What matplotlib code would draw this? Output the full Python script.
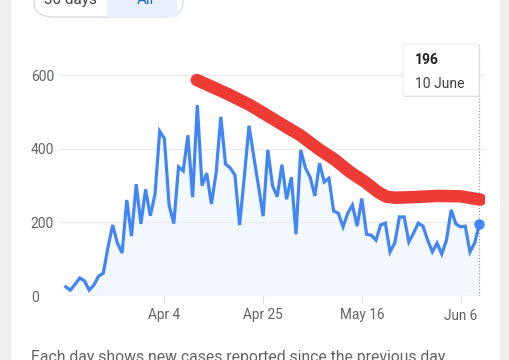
import numpy as np
import pandas as pd
import matplotlib
matplotlib.use("Agg")
import matplotlib.pyplot as plt
import matplotlib.dates as mdates
from matplotlib.patches import FancyBboxPatch, Rectangle

plt.rcParams['font.family'] = ['Roboto', 'DejaVu Sans']

# daily new cases, 14 Mar -> 10 Jun
START = "2020-03-14"
cases = [25, 16, 32, 49, 41, 16, 30, 54, 62, 133,
         193, 144, 117, 261, 163, 304, 196, 290, 218, 277,
         448, 428, 247, 197, 351, 340, 437, 269, 519, 300,
         334, 250, 335, 487, 359, 348, 329, 193, 325, 463,
         380, 300, 217, 397, 300, 270, 357, 263, 323, 168,
         397, 348, 323, 272, 361, 310, 320, 231, 225, 188,
         225, 247, 190, 265, 168, 165, 152, 193, 198, 120,
         144, 215, 215, 147, 171, 198, 190, 152, 120, 144,
         114, 152, 234, 196, 188, 190, 120, 144, 196]

# hand drawn red trend stroke (days after start, value)
red_days = [27.9, 30.7, 35.0, 39.2, 43.5, 46.6, 49.9, 54.1, 57.3, 60.5,
            63.7, 66.5, 68.2, 70.1, 74.3, 79.0, 84.0, 88.2]
red_vals = [587, 571, 546, 519, 486, 462, 437, 397, 370, 337,
            310, 282, 270, 267, 269, 272, 271, 262]

y_ticks = [0, 200, 400, 600]
x_tick_dates = ["2020-04-04", "2020-04-25", "2020-05-16", "2020-06-06"]
x_tick_labels = ["Apr 4", "Apr 25", "May 16", "Jun 6"]

dates = pd.date_range(START, periods=len(cases), freq="D")
x = mdates.date2num(dates)
x0 = mdates.date2num(pd.Timestamp(START))
red_x = x0 + np.array(red_days)

W, H = 510, 360
fig = plt.figure(figsize=(W / 100, H / 100), dpi=100)
fig.patch.set_facecolor('white')

def fx(px):
    return px / W

def fy(py):
    return 1 - py / H

# card edges
fig.patches.append(Rectangle((0, 0), fx(10), 1, transform=fig.transFigure,
                             color='#efefef', zorder=0))
fig.patches.append(Rectangle((fx(500), 0), fx(10), 1, transform=fig.transFigure,
                             color='#efefef', zorder=0))

# range toggle, cut off at top
fig.patches.append(FancyBboxPatch((fx(34), fy(17)), fx(149), fy(-20) - fy(17),
                                  boxstyle="round,pad=0,rounding_size=0.04",
                                  transform=fig.transFigure, facecolor='white',
                                  edgecolor='#dadce0', lw=1, zorder=1))
fig.patches.append(Rectangle((fx(107), fy(16.5)), fx(70), fy(-20) - fy(16.5),
                             transform=fig.transFigure, facecolor='#e8f0fe',
                             edgecolor='none', zorder=2))
fig.text(fx(70), fy(4), "30 days", ha='center', va='baseline', fontsize=11,
         color='#3c4043')
fig.text(fx(145), fy(4), "All", ha='center', va='baseline', fontsize=11,
         color='#1967d2')

ax = fig.add_axes([fx(60), fy(296), fx(425), fy(44) - fy(296)])
ax.set_facecolor('none')
for s in ax.spines.values():
    s.set_visible(False)

ax.fill_between(x, cases, 0, color='#4285f4', alpha=0.06, lw=0)
ax.plot(x, cases, color='#4285f4', lw=2.3, solid_joinstyle='miter', zorder=3)
ax.plot(x[-1], cases[-1], 'o', color='#4285f4', ms=6.5, zorder=4)
ax.plot(red_x, red_vals, color='#ef3b36', lw=9, solid_capstyle='round',
        solid_joinstyle='round', zorder=5)
ax.axvline(x[-1], color='#9aa0a6', lw=0.9, ls=(0, (1, 1.5)), zorder=2)

ax.set_xlim(x0 - 1.21, x0 + 89.2)
ax.set_ylim(0, 685)

ax.set_yticks(y_ticks)
ax.set_yticklabels([str(v) for v in y_ticks])
ax.tick_params(axis='y', length=0, pad=21, labelsize=10, labelcolor='#5f6368')
for lab in ax.get_yticklabels():
    lab.set_horizontalalignment('left')
ax.grid(axis='y', color='#ebebeb', lw=1, zorder=0)

ax.set_xticks(mdates.date2num(pd.to_datetime(x_tick_dates)))
ax.set_xticklabels(x_tick_labels)
ax.tick_params(axis='x', length=5, width=0.8, color='#dadce0', pad=4,
               labelsize=9.8, labelcolor='#5f6368')

# tooltip
fig.patches.append(FancyBboxPatch((fx(404), fy(97)), fx(76), fy(45) - fy(97),
                                  boxstyle="round,pad=0,rounding_size=0.004",
                                  transform=fig.transFigure, facecolor='#d9d9d9',
                                  edgecolor='none', zorder=6))
fig.patches.append(FancyBboxPatch((fx(403), fy(96)), fx(76), fy(44) - fy(96),
                                  boxstyle="round,pad=0,rounding_size=0.004",
                                  transform=fig.transFigure, facecolor='white',
                                  edgecolor='#e6e6e6', lw=0.6, zorder=7))
fig.text(fx(415), fy(60), f"{cases[-1]}", ha='left', va='center', fontsize=10,
         fontweight='bold', color='#202124', zorder=8)
fig.text(fx(415), fy(84), dates[-1].strftime("%-d %B"), ha='left', va='center',
         fontsize=10, color='#3c4043', zorder=8)

fig.text(fx(31), fy(350), "Each day shows new cases reported since the previous day",
         ha='left', va='top', fontsize=11.3, color='#5f6368')

fig.savefig("out.png", dpi=100)
